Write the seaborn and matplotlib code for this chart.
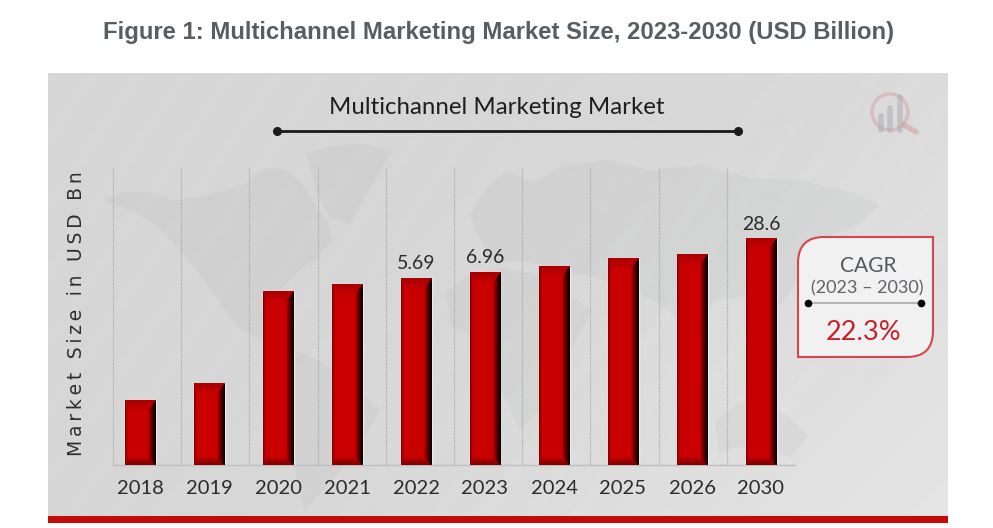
import numpy as np
import pandas as pd
import seaborn as sns
import matplotlib.pyplot as plt
from matplotlib.patches import Circle, PathPatch, Polygon, Rectangle
from matplotlib.path import Path

years = ["2018", "2019", "2020", "2021", "2022", "2023", "2024", "2025", "2026", "2030"]
# drawn bar heights, the chart has no numeric axis
bar_heights = [65, 82, 174, 181, 187, 193, 198, 206, 210, 226]
bar_labels = ["", "", "", "", "5.69", "6.96", "", "", "", "28.6"]

W, H = 993, 528
RED = "#c80000"

sns.set_theme(style="white")
plt.rcParams["font.family"] = ["Lato", "DejaVu Sans"]

fig = plt.figure(figsize=(W / 100, H / 100), dpi=100, facecolor="white")

# background layer in pixel coordinates
bg = fig.add_axes([0, 0, 1, 1], zorder=0)
bg.set_xlim(0, W)
bg.set_ylim(H, 0)
bg.axis("off")

# grey panel with a soft diagonal gradient
px, py = np.meshgrid(np.linspace(0, 1, 300), np.linspace(0, 1, 150))
t = np.clip((px * 900 + py * 443 - 500) / 840, 0, 1)
shade = (214 + 15 * t ** 1.5) / 255
bg.imshow(shade, extent=(48, 948, 516, 73), cmap="gray", vmin=0, vmax=1, aspect="auto", zorder=0)
bg.set_xlim(0, W)
bg.set_ylim(H, 0)
for off in range(-300, 1200, 46):
    bg.plot([48 + off, 48 + off + 300], [516, 73], color="white", alpha=0.03, lw=9, zorder=0.5,
            clip_path=Rectangle((48, 73), 900, 443, transform=bg.transData))
bg.add_patch(Rectangle((48, 516), 900, 7, color="#c60a0c", lw=0, zorder=1))

# faint world map
land = [
    [(103, 200), (125, 192), (150, 192), (172, 200), (200, 197), (225, 190), (245, 184), (262, 168), (285, 170),
     (300, 180), (312, 200), (328, 222), (332, 240), (316, 258), (298, 272), (283, 288), (272, 312), (282, 330),
     (262, 340), (240, 330), (222, 306), (200, 275), (180, 250), (160, 228), (135, 212)],
    [(305, 152), (335, 146), (362, 144), (392, 150), (380, 172), (365, 196), (350, 224), (328, 216), (316, 190)],
    [(272, 348), (300, 352), (322, 362), (352, 385), (380, 410), (362, 442), (340, 470), (322, 492), (305, 512),
     (296, 480), (292, 450), (284, 410)],
    [(470, 215), (485, 190), (505, 172), (535, 182), (565, 165), (610, 160), (650, 170), (700, 165), (750, 178),
     (800, 180), (850, 192), (880, 205), (862, 222), (830, 236), (812, 262), (790, 292), (768, 322), (742, 296),
     (715, 300), (692, 332), (668, 310), (645, 296), (605, 280), (570, 272), (530, 262), (490, 262)],
    [(445, 292), (470, 274), (500, 268), (548, 276), (570, 296), (592, 310), (574, 342), (562, 392), (540, 410),
     (520, 430), (502, 392), (488, 345), (452, 326)],
    [(715, 420), (736, 405), (755, 396), (775, 406), (792, 420), (808, 436), (790, 458), (768, 450), (745, 446),
     (718, 452)],
]
for shape in land:
    bg.add_patch(Polygon(shape, closed=True, color="#8d9092", alpha=0.08, lw=0, zorder=1))

# logo, top right
bg.add_patch(Circle((890, 112), 18, fill=False, ec="#d98f92", lw=2.5, alpha=0.4, zorder=2))
bg.plot([904, 916], [125, 132], color="#d98f92", lw=4, alpha=0.45, solid_capstyle="round", zorder=2)
for lx, ly in [(881, 116), (890, 108), (900, 97)]:
    bg.plot([lx, lx], [ly, 130], color="#a9adb3", lw=4, alpha=0.55, zorder=2)

# heading line
bg.plot([277, 738], [131, 131], color="#1a1a1a", lw=2, marker="o", ms=5.5, zorder=3)
bg.text(497, 108, "Multichannel Marketing Market", ha="center", va="center", fontsize=17.3, color="#1e1e1e",
        family=["Lato", "DejaVu Sans"])
fig.text(499 / W, 1 - 32 / H, "Figure 1: Multichannel Marketing Market Size, 2023-2030 (USD Billion)",
         ha="center", va="center", fontsize=17.2, fontweight="bold", color="#565e63",
         family=["Liberation Sans", "DejaVu Sans"])

# CAGR box, with the top left and bottom right corners rounded
x0, x1, y0, y1, r = 798, 933, 237, 357, 26
verts = [(x0 + r, y0), (x1, y0), (x1, y1 - r), (x1, y1), (x1 - r, y1), (x0, y1), (x0, y0 + r), (x0, y0), (x0 + r, y0)]
codes = [Path.MOVETO, Path.LINETO, Path.LINETO, Path.CURVE3, Path.CURVE3, Path.LINETO, Path.LINETO, Path.CURVE3,
         Path.CURVE3]
bg.add_patch(PathPatch(Path(verts, codes), fc="#f1f1f2", ec="#d5474c", lw=1.5, zorder=3))
bg.plot([808, 921], [303, 303], color="#b5b5b5", lw=1.5, zorder=4)
bg.plot([808, 921], [303, 303], color="black", lw=0, marker="o", ms=4.5, zorder=5)
bg.text(868, 266, "CAGR", ha="center", va="center", fontsize=15, color="#55585c", zorder=5)
bg.text(867, 288, "(2023 \u2013 2030)", ha="center", va="center", fontsize=13, color="#606367", zorder=5)
bg.text(864, 332, "22.3%", ha="center", va="center", fontsize=19.5, color="#c8202a", zorder=5)

# bars
ax = fig.add_axes([113 / W, 1 - 465 / H, 682 / W, 297 / H], zorder=1)
ax.patch.set_alpha(0)
df = pd.DataFrame({"year": years, "size": bar_heights})
sns.barplot(data=df, x="year", y="size", color=RED, saturation=1, width=31 / 69, ax=ax, zorder=3)

xlim = (-27 / 69, 9 + 34 / 69)
ylim = (0, 297)

bars = list(ax.patches)
for bar in bars:
    bar.set_edgecolor("#ececec")
    bar.set_linewidth(1)
    # bevel shading laid over each bar
    bx, bw, bh = bar.get_x(), bar.get_width(), bar.get_height()
    nw, nh = 31, int(bh)
    gx, gy = np.meshgrid(np.arange(nw) + 0.5, np.arange(nh) + 0.5)
    d_l, d_r = gx / 3, (nw - gx) / 8
    d_t, d_b = gy / 10, (nh - gy) / 7
    near = np.min([d_l, d_r, d_t, d_b, np.ones_like(gx)], axis=0)
    factor = np.ones_like(gx)
    factor = np.where(near == d_r, 0.05 + 0.95 * d_r ** 1.3, factor)
    factor = np.where(near == d_l, 0.6 + 0.4 * d_l, factor)
    factor = np.where(near == d_b, 0.62 + 0.3 * d_b, factor)
    factor = np.where(near == d_t, 0.84 + 0.14 * d_t, factor)
    img = np.dstack([factor * 200 / 255, np.zeros_like(factor), np.zeros_like(factor)])
    ax.imshow(img, extent=(bx, bx + bw, 0, bh), aspect="auto", zorder=4, interpolation="bilinear")

ax.bar_label(ax.containers[0], labels=bar_labels, padding=4, fontsize=14, color="#2b2b2b", zorder=5)

ax.set_xlim(*xlim)
ax.set_ylim(*ylim)

# dotted separators between the years
ax.vlines(np.linspace(xlim[0], xlim[1], 11), 0, 297, color="#a4a6a8", lw=0.8, ls=(0, (1, 1)), zorder=1)

sns.despine(ax=ax, left=True)
ax.spines["bottom"].set_color("#bcbec0")
ax.spines["bottom"].set_linewidth(1)
ax.set_xlabel("")
ax.set_ylabel("")
ax.set_yticks([])
ax.tick_params(axis="x", length=0, pad=11, labelsize=14.5, labelcolor="#2b2b2b")

fig.text(77 / W, 1 - 314 / H, "\u200a\u200a".join("Market Size in USD Bn"), rotation=90, ha="center", va="center",
         fontsize=13.5, color="#2f2f2f", family=["DejaVu Sans"])

fig.savefig("out.png", dpi=100)
